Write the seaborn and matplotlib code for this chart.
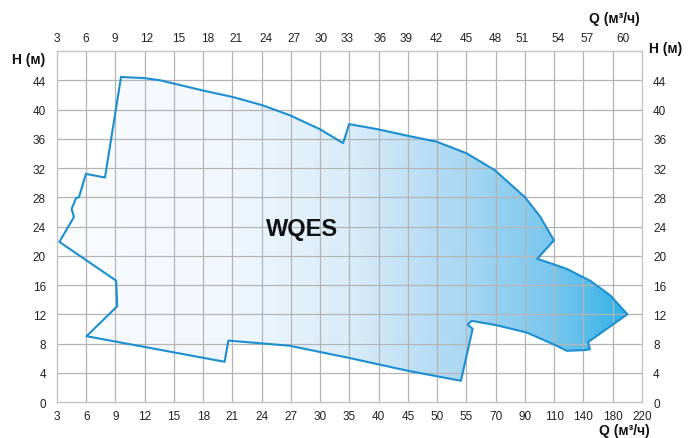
import numpy as np
import matplotlib
matplotlib.use('Agg')
import matplotlib.pyplot as plt
from matplotlib.colors import LinearSegmentedColormap
from matplotlib.patches import Polygon
import seaborn as sns

# bottom axis (Q, m3/h) - one label per grid line
q_bottom = [3, 6, 9, 12, 15, 18, 21, 24, 27, 30, 35, 40, 45, 50, 55, 70, 90, 110, 140, 180, 220]
# top axis labels and where they sit (in grid units)
q_top = [3, 6, 9, 12, 15, 18, 21, 24, 27, 30, 33, 36, 39, 42, 45, 48, 51, 54, 57, 60]
q_top_pos = [0.0, 0.99, 1.96, 3.08, 4.17, 5.16, 6.12, 7.15, 8.1, 9.03,
             9.93, 11.04, 11.92, 12.98, 14.01, 14.97, 15.91, 17.14, 18.11, 19.36]
h_ticks = list(range(0, 48, 4))

# WQES working field outline (x in grid units of the bottom axis, H in m)
field_x = [2.19, 2.98, 3.52, 4.99, 6.02, 7.01, 7.97, 8.99, 9.78, 9.99,
           10.97, 12.0, 12.98, 14.01, 14.97, 16.0, 16.51, 16.99, 16.42, 17.43,
           18.22, 18.91, 19.5, 18.16, 18.22, 18.05, 17.43, 17.08, 16.06, 15.03,
           14.18, 14.04, 14.21, 13.81, 11.96, 10.02, 7.94, 5.86, 5.73, 1.01,
           2.06, 2.02, 0.08, 0.58, 0.50, 0.65, 0.75, 0.99, 1.64, 2.19]
field_h = [44.45, 44.3, 44.0, 42.6, 41.7, 40.6, 39.2, 37.3, 35.4, 38.0,
           37.3, 36.4, 35.6, 34.0, 31.7, 28.0, 25.4, 22.1, 19.6, 18.2,
           16.6, 14.6, 12.0, 8.2, 7.2, 7.1, 7.0, 7.7, 9.5, 10.5,
           11.1, 10.6, 10.0, 2.9, 4.3, 6.0, 7.7, 8.4, 5.5, 9.0,
           13.1, 16.6, 21.9, 25.3, 26.4, 27.9, 28.0, 31.2, 30.7, 44.45]

sns.set_theme(style='white')
plt.rcParams['font.family'] = ['Liberation Sans', 'DejaVu Sans']

fig = plt.figure(figsize=(6.9, 4.39), dpi=100)
ax = fig.add_axes([0.0826, 0.082, 0.8478, 0.7995])
ax.set_xlim(0, 20)
ax.set_ylim(0, 48)

# gradient fill clipped to the field
cmap = LinearSegmentedColormap.from_list('field', [
    (0.0, '#fbfdff'), (0.3, '#f0f7fd'), (0.5, '#d9ecf9'), (0.7, '#a8d7f2'),
    (0.85, '#78c6ee'), (0.92, '#52bbea'), (0.975, '#2eb3e8'), (1.0, '#28b1e8')])
grad = np.linspace(0, 1, 400).reshape(1, -1)
img = ax.imshow(grad, extent=[0, 20, 0, 48], aspect='auto', cmap=cmap,
                origin='lower', zorder=1, interpolation='bilinear')
poly = Polygon(np.column_stack([field_x, field_h]), closed=True,
               facecolor='none', edgecolor='none')
ax.add_patch(poly)
img.set_clip_path(poly)

sns.lineplot(x=field_x, y=field_h, sort=False, estimator=None, ax=ax,
             color='#1c8fd0', linewidth=1.5, zorder=3)

# grid
ax.set_xticks(range(0, 21))
ax.set_xticklabels([str(q) for q in q_bottom])
ax.set_yticks(h_ticks)
for x in range(1, 20):
    ax.axvline(x, color='#b4b4b4', linewidth=0.9, zorder=2.5)
for y in range(4, 48, 4):
    ax.axhline(y, color='#b4b4b4', linewidth=0.9, zorder=2.5)
for s in ax.spines.values():
    s.set_color('#c4c4c4')
    s.set_linewidth(1.0)

ax.tick_params(axis='x', length=0, pad=6, labelsize=8.5, colors='#222222')
ax.tick_params(axis='y', length=0, pad=8, labelsize=8.5, colors='#222222',
               labelright=True, left=False, right=False)

ax2 = ax.twiny()
ax2.set_xlim(0, 20)
ax2.set_xticks(q_top_pos)
ax2.set_xticklabels([str(q) for q in q_top])
ax2.tick_params(axis='x', length=0, pad=5, labelsize=8.5, colors='#222222')
for s in ax2.spines.values():
    s.set_visible(False)

ax.text(8.38, 23.7, 'WQES', fontsize=17, fontweight='bold', ha='center',
        va='center', color='#111111', zorder=4)

lab_kw = dict(fontsize=10, fontweight='bold', ha='center', va='center', color='#111111')
fig.text(29 / 690, 1 - 60 / 439, 'H (м)', **lab_kw)
fig.text(666 / 690, 1 - 49 / 439, 'H (м)', **lab_kw)
fig.text(614 / 690, 1 - 19 / 439, 'Q (м³/ч)', **lab_kw)
fig.text(624 / 690, 1 - 431 / 439, 'Q (м³/ч)', **lab_kw)

fig.savefig('out.png', dpi=100)
